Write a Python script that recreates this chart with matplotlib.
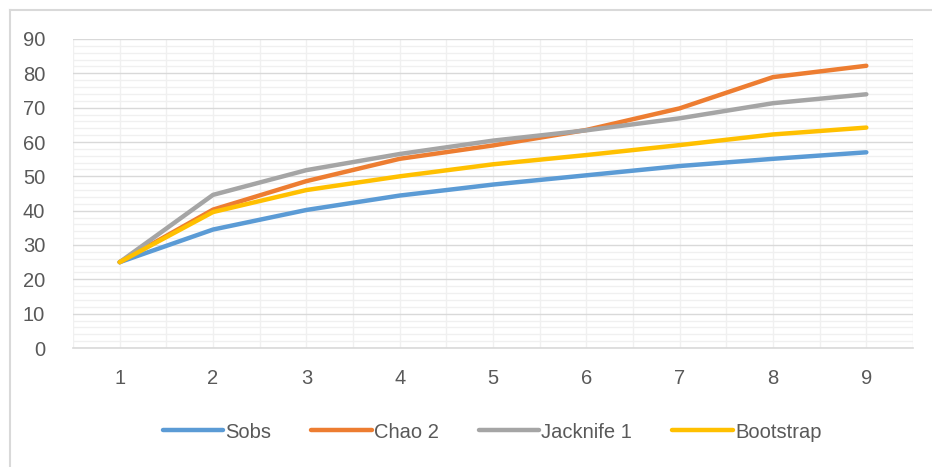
import matplotlib.pyplot as plt
from matplotlib.lines import Line2D
from matplotlib.ticker import MultipleLocator

# Curvas de acumulación de especies por muestra
muestras = [1, 2, 3, 4, 5, 6, 7, 8, 9]
sobs = [25, 34.5, 40.2, 44.4, 47.6, 50.3, 53.0, 55.1, 57.0]
chao2 = [25, 40.3, 48.6, 55.1, 59.0, 63.5, 69.8, 78.9, 82.2]
jacknife1 = [25, 44.6, 51.8, 56.5, 60.4, 63.4, 66.9, 71.3, 73.9]
bootstrap = [25, 39.6, 46.0, 50.0, 53.5, 56.2, 59.1, 62.2, 64.2]

series = [
    ('Sobs', sobs, '#5B9BD5'),
    ('Chao 2', chao2, '#ED7D31'),
    ('Jacknife 1', jacknife1, '#A5A5A5'),
    ('Bootstrap', bootstrap, '#FFC000'),
]

plt.rcParams['font.family'] = ['Liberation Sans', 'DejaVu Sans']
texto = '#595959'

fig = plt.figure(figsize=(9.32, 4.67), dpi=100)
ax = fig.add_axes([73 / 932, 1 - 348 / 467, (913 - 73) / 932, (348 - 39) / 467])

# marco exterior del gráfico
fig.add_artist(Line2D([10 / 932, 10 / 932], [0, 1 - 10 / 467], transform=fig.transFigure,
                      color='#D9D9D9', lw=1.5))
fig.add_artist(Line2D([10 / 932, 1], [1 - 10 / 467, 1 - 10 / 467], transform=fig.transFigure,
                      color='#D9D9D9', lw=1.5))

for nombre, valores, color in series:
    ax.plot(muestras, valores, color=color, lw=3.2, solid_capstyle='round',
            solid_joinstyle='round', label=nombre, zorder=3)

ax.set_xlim(0.5, 9.5)
ax.set_ylim(0, 90)
ax.xaxis.set_major_locator(MultipleLocator(1))
ax.xaxis.set_minor_locator(MultipleLocator(0.5))
ax.yaxis.set_major_locator(MultipleLocator(10))
ax.yaxis.set_minor_locator(MultipleLocator(2))

ax.grid(which='major', axis='y', color='#D9D9D9', lw=1.0)
ax.grid(which='minor', axis='y', color='#F0F0F0', lw=1.0)
ax.grid(which='both', axis='x', color='#F0F0F0', lw=1.0)
ax.set_axisbelow(True)

for lado in ['top', 'right', 'left']:
    ax.spines[lado].set_visible(False)
ax.spines['bottom'].set_color('#D9D9D9')
ax.spines['bottom'].set_linewidth(1.2)

ax.tick_params(which='both', length=0)
ax.tick_params(axis='y', labelsize=14.5, colors=texto, pad=20)
ax.tick_params(axis='x', labelsize=14.5, colors=texto, pad=15)

fig.legend(loc='center', bbox_to_anchor=(492 / 932, 1 - 432 / 467), ncol=4, frameon=False,
           fontsize=14.5, labelcolor=texto, handlelength=3.0, handletextpad=0.1,
           columnspacing=2.0)

fig.savefig('out.png', dpi=100)
